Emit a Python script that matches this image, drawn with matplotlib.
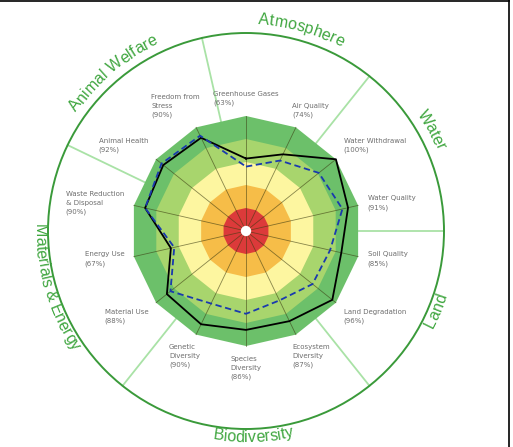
import numpy as np
import matplotlib
matplotlib.use("Agg")
import matplotlib.pyplot as plt
from matplotlib.patches import Polygon, Circle
from matplotlib.lines import Line2D

# themes, clockwise from the top
themes = ["Greenhouse Gases", "Air Quality", "Water Withdrawal", "Water Quality",
          "Soil Quality", "Land Degradation", "Ecosystem\nDiversity", "Species\nDiversity",
          "Genetic\nDiversity", "Material Use", "Energy Use", "Waste Reduction\n& Disposal",
          "Animal Health", "Freedom from\nStress"]
scores = [63, 74, 100, 91, 85, 96, 87, 86, 90, 88, 67, 90, 92, 90]
benchmark = [56, 68, 81, 86, 75, 74, 67, 72, 70, 84, 64, 90, 94, 92]

groups = ["Atmosphere", "Water", "Land", "Biodiversity", "Materials & Energy", "Animal Welfare"]
group_sizes = [2, 2, 2, 3, 3, 2]

band_levels = [100, 80, 60, 40, 20]
band_colors = ["#6cc06a", "#a8d56d", "#fdf6a0", "#f6bd48", "#dc3a3a"]

W, H = 513, 447
CX, CY = 246, 231          # centre in pixels
S = 1.15                   # pixels per unit (100 % = 115 px)
R_CIRCLE = 198 / S

fig = plt.figure(figsize=(W / 100, H / 100), dpi=100)
ax = fig.add_axes([0, 0, 1, 1])
ax.set_xlim(-CX / S, (W - CX) / S)
ax.set_ylim(-(H - CY) / S, CY / S)
ax.axis("off")

n = len(themes)
step = 360.0 / n
ang = np.radians(90 - step * np.arange(n))

# group separators and outer circle
starts = np.cumsum([0] + group_sizes[:-1])
for s0 in starts:
    a = np.radians(90 - step * (s0 - 0.5))
    ax.plot([0, R_CIRCLE * np.cos(a)], [0, R_CIRCLE * np.sin(a)],
            color="#a9e2a6", lw=1.3, zorder=1)
ax.add_patch(Circle((0, 0), R_CIRCLE, fill=False, ec="#3a9a3a", lw=1.4, zorder=2))

# rating bands
for lev, col in zip(band_levels, band_colors):
    pts = np.column_stack([lev * np.cos(ang), lev * np.sin(ang)])
    ax.add_patch(Polygon(pts, closed=True, fc=col, ec="none", zorder=3))

for a in ang:
    ax.plot([0, 100 * np.cos(a)], [0, 100 * np.sin(a)], color="#3a3a10",
            alpha=0.6, lw=0.6, zorder=4)
ax.add_patch(Circle((0, 0), 4.5, fc="white", ec="none", zorder=5))

# series
sc = np.array(scores + scores[:1], dtype=float)
bm = np.array(benchmark + benchmark[:1], dtype=float)
aa = np.append(ang, ang[0])
ax.plot(sc * np.cos(aa), sc * np.sin(aa), color="black", lw=1.3, zorder=6)
ax.plot(bm * np.cos(aa), bm * np.sin(aa), color="#1a3aae", lw=1.3,
        ls=(0, (3.5, 2)), zorder=7)

# theme labels
r_lab = 125 / S
for name, val, a in zip(themes, scores, ang):
    c, s = np.cos(a), np.sin(a)
    ha = "left" if c > 0.2 else ("right" if c < -0.2 else "center")
    va = "bottom" if s > 0.3 else ("top" if s < -0.3 else "center")
    kx = 0.85 if abs(c) < 0.5 else 1.0
    ax.text(r_lab * c * kx, r_lab * s, f"{name}\n({val}%)", ha=ha, va=va,
            multialignment="left", fontsize=5, color="#6e6e6e",
            family="DejaVu Sans", linespacing=1.6, zorder=8)

# curved group titles
renderer = fig.canvas.get_renderer()
gfont = dict(fontsize=11.5, family="Liberation Sans", color="#3fa63f")
title_nudge = [-2.5, 3, 3, 2, 3.5, 1.5]   # degrees, counter-clockwise


def width_px(txt):
    t = ax.text(0, 0, txt, **gfont)
    w = t.get_window_extent(renderer=renderer).width
    t.remove()
    return w


def arc_text(txt, mid, upper):
    base = width_px("xx")
    total = width_px("x" + txt + "x") - base
    r_px = 207 if upper else 211
    for i, ch in enumerate(txt):
        if ch == " ":
            continue
        x0 = width_px("x" + txt[:i] + "x") - base
        x1 = width_px("x" + txt[:i + 1] + "x") - base
        d = np.degrees(((x0 + x1) / 2 - total / 2) / r_px)
        if upper:
            th = mid - d
            rot = th - 90
        else:
            th = mid + d
            rot = th + 90
        t = np.radians(th)
        ax.text(r_px / S * np.cos(t), r_px / S * np.sin(t), ch, rotation=rot,
                rotation_mode="anchor", ha="center", va="baseline", zorder=9, **gfont)


for g, s0, size, nudge in zip(groups, starts, group_sizes, title_nudge):
    mid = 90 - step * (s0 + size / 2 - 0.5)
    arc_text(g, mid + nudge, np.sin(np.radians(mid)) > 0)

# screenshot frame
fig.add_artist(Line2D([0, 509 / W], [1 - 1 / H, 1 - 1 / H], transform=fig.transFigure,
                      color="black", lw=1.2))
fig.add_artist(Line2D([509 / W, 509 / W], [0, 1], transform=fig.transFigure,
                      color="black", lw=1.2))

fig.savefig("out.png", dpi=100)
